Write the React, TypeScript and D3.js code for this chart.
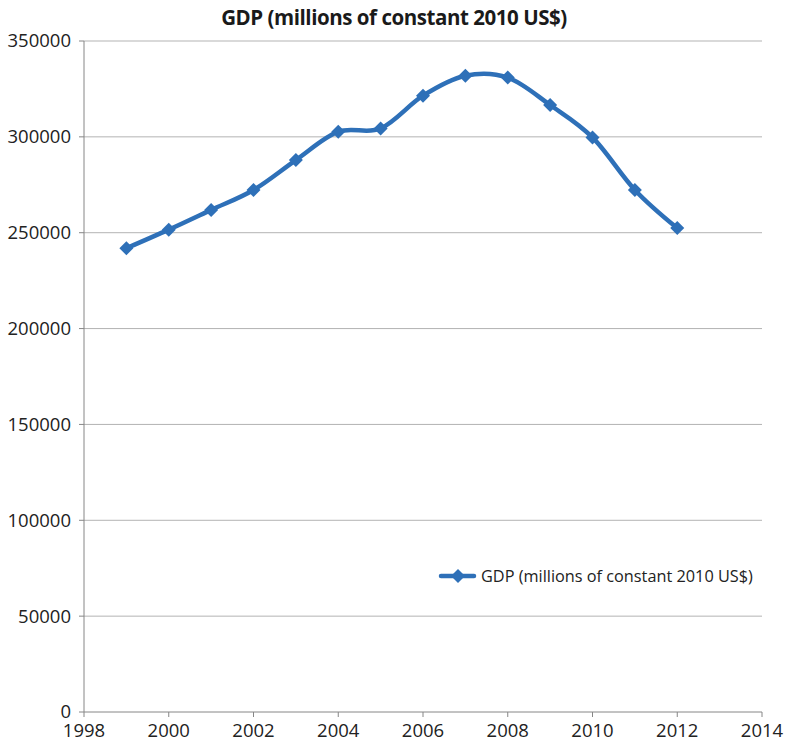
import React from "react";
import * as d3 from "d3";

const years = [1999, 2000, 2001, 2002, 2003, 2004, 2005, 2006, 2007, 2008, 2009, 2010, 2011, 2012];
const gdp = [241900, 251600, 261900, 272300, 287900, 302700, 304400, 321500, 331900, 330900, 316600, 299700, 272300, 252400];
const xTicks = [1998, 2000, 2002, 2004, 2006, 2008, 2010, 2012, 2014];
const yTicks = [0, 50000, 100000, 150000, 200000, 250000, 300000, 350000];
const title = "GDP (millions of constant 2010 US$)";
const seriesName = "GDP (millions of constant 2010 US$)";

const W = 787, H = 745;
const left = 84, right = 762, top = 41, bottom = 712;
const color = "#2E70B8";
const font = "'Open Sans', 'Noto Sans', sans-serif";

export default function App() {
  const x = d3.scaleLinear().domain([1998, 2014]).range([left, right]);
  const y = d3.scaleLinear().domain([0, 350000]).range([bottom, top]);
  const line = d3.line<number>()
    .x((_, i) => x(years[i]))
    .y((d) => y(d))
    .curve(d3.curveCardinal.tension(0));
  const diamond = (cx: number, cy: number, r: number) =>
    `M${cx},${cy - r}L${cx + r},${cy}L${cx},${cy + r}L${cx - r},${cy}Z`;
  const legX = 441, legY = 576;
  return (
    <svg width={W} height={H} style={{ position: "absolute", left: 0, top: 0, background: "#fff" }}>
      <text x={394} y={25} textAnchor="middle" fontFamily={font} fontWeight="bold" fontSize={20.5} letterSpacing={-0.45} fill="#1a1a1a">{title}</text>
      {yTicks.map((t) => (
        <g key={t}>
          {t > 0 && <line x1={left} x2={right} y1={y(t)} y2={y(t)} stroke="#B3B3B3" strokeWidth={1} />}
          <line x1={left - 5} x2={left} y1={y(t)} y2={y(t)} stroke="#868686" strokeWidth={1} />
          <text x={left - 13} y={y(t)} dy="0.35em" textAnchor="end" fontFamily={font} fontSize={18.5} fill="#222">{t}</text>
        </g>
      ))}
      <line x1={left} x2={left} y1={top} y2={bottom} stroke="#868686" strokeWidth={1} />
      <line x1={left} x2={right} y1={bottom} y2={bottom} stroke="#868686" strokeWidth={1} />
      {xTicks.map((t) => (
        <g key={t}>
          <line x1={x(t)} x2={x(t)} y1={bottom} y2={bottom + 5} stroke="#868686" strokeWidth={1} />
          <text x={x(t)} y={bottom + 25} textAnchor="middle" fontFamily={font} fontSize={18.5} fill="#222">{t}</text>
        </g>
      ))}
      <path d={line(gdp) || ""} fill="none" stroke={color} strokeWidth={4.5} strokeLinejoin="round" strokeLinecap="round" />
      {gdp.map((v, i) => (
        <path key={i} d={diamond(x(years[i]), y(v), 7)} fill={color} />
      ))}
      <line x1={legX} x2={legX + 33} y1={legY} y2={legY} stroke={color} strokeWidth={4.5} strokeLinecap="round" />
      <path d={diamond(legX + 17, legY, 7)} fill={color} />
      <text x={legX + 40} y={legY} dy="0.35em" fontFamily={font} fontSize={16.3} fill="#222">{seriesName}</text>
    </svg>
  );
}
